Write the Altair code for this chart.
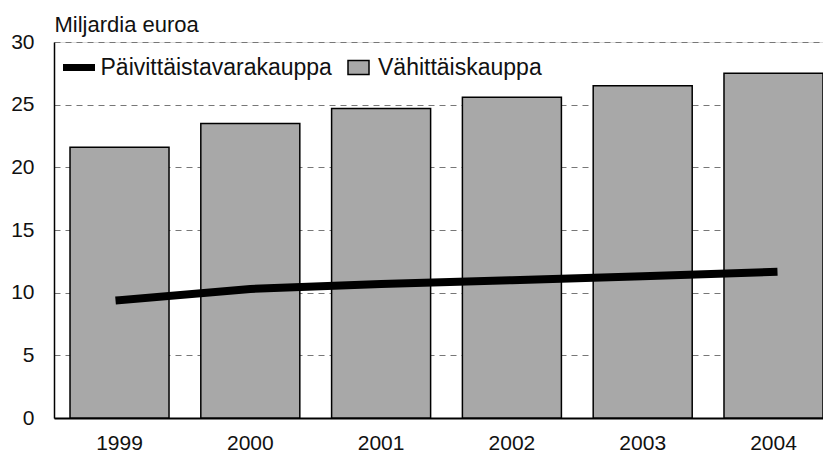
import altair as alt
import pandas as pd

years = ["1999", "2000", "2001", "2002", "2003", "2004"]
retail = [21.6, 23.5, 24.7, 25.6, 26.5, 27.5]          # Vähittäiskauppa (bars)
grocery = [9.4, 10.3, 10.7, 11.0, 11.3, 11.65]        # Päivittäistavarakauppa (line)
y_ticks = [0, 5, 10, 15, 20, 25, 30]

bar_name = "Vähittäiskauppa"
line_name = "Päivittäistavarakauppa"

bars_df = pd.DataFrame({"year": years, "value": retail, "series": [bar_name] * len(years)})
line_df = pd.DataFrame({"year": years, "value": grocery, "series": [line_name] * len(years)})

FONT = "Liberation Sans"

x_enc = alt.X(
    "year:N",
    title=None,
    scale=alt.Scale(paddingInner=0.243, paddingOuter=0.0612, align=1),
    axis=alt.Axis(
        labelAngle=0, labelFontSize=21, labelPadding=14, labelColor="#111",
        ticks=False, domainColor="#000", domainWidth=2, grid=False,
        labelFont=FONT,
    ),
)

y_enc = alt.Y(
    "value:Q",
    scale=alt.Scale(domain=[0, 30], nice=False, zero=True),
    axis=alt.Axis(
        values=y_ticks, title="Miljardia euroa", titleAngle=0, titleAlign="left",
        titleBaseline="alphabetic", titleX=0, titleY=-11, titleFontSize=22,
        titleFontWeight="normal", titleFont=FONT, titleColor="#111",
        labelFontSize=21, labelPadding=20, labelColor="#111", labelFont=FONT,
        ticks=False, domainColor="#000", domainWidth=1.5,
        grid=True, gridDash=[6, 5], gridColor="#777", gridWidth=1,
    ),
)

bars = alt.Chart(bars_df).mark_bar(stroke="#000", strokeWidth=1.5).encode(
    x=x_enc,
    y=y_enc,
    fill=alt.Fill(
        "series:N",
        scale=alt.Scale(domain=[bar_name], range=["#a8a8a8"]),
        legend=alt.Legend(
            orient="none", legendX=293, legendY=14, title=None,
            symbolType="M-1,-0.667H1V0.667H-1Z", symbolSize=441,
            symbolStrokeColor="#000", symbolStrokeWidth=1.5,
            labelFontSize=23, labelFont=FONT, labelColor="#111", labelOffset=8,
            labelLimit=400,
        ),
    ),
)

line = alt.Chart(line_df).mark_line(strokeWidth=8, strokeCap="square", color="#000").encode(
    x=x_enc,
    y=alt.Y("value:Q"),
    color=alt.Color(
        "series:N",
        scale=alt.Scale(domain=[line_name], range=["#000"]),
        legend=alt.Legend(
            orient="none", legendX=5.5, legendY=6, title=None,
            symbolType="stroke", symbolSize=1024, symbolStrokeWidth=7,
            labelFontSize=23, labelFont=FONT, labelColor="#111", labelOffset=2,
            labelLimit=400,
        ),
    ),
)

chart = alt.layer(bars, line).properties(
    width=769,
    height=376,
    autosize=alt.AutoSizeParams(type="none"),
    padding={"left": 46, "top": 34, "right": 0, "bottom": 35},
).configure_view(stroke=None).configure(font=FONT)

chart.save("out.html", embed_options={"renderer": "svg", "actions": False})
